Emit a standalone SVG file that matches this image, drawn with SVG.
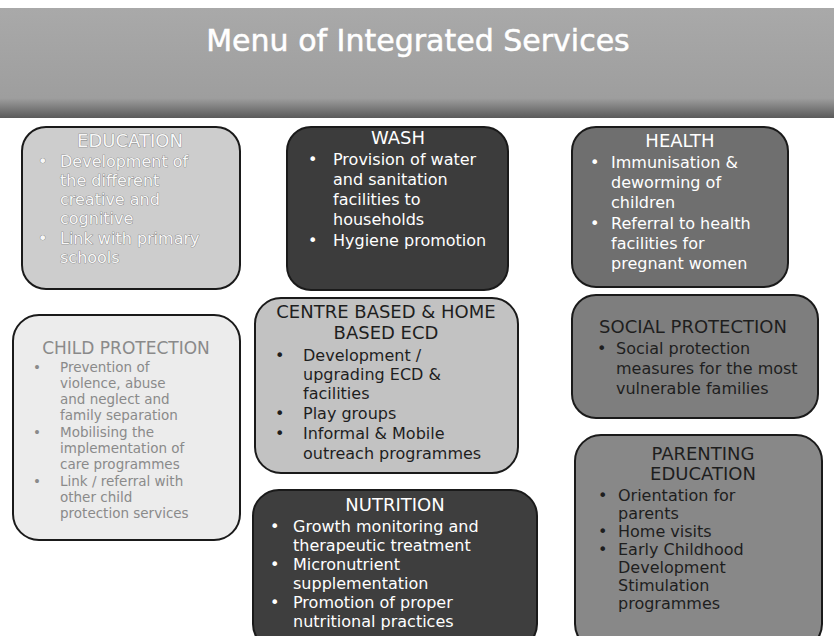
<svg xmlns="http://www.w3.org/2000/svg" width="834" height="636" viewBox="0 0 834 636">
<style>
text{font-family:"DejaVu Sans","Liberation Sans",sans-serif;font-size:16px}
.box{stroke:#1a1a1a;stroke-width:2}
.hd{text-anchor:middle;font-size:18px}
.w{fill:#ffffff}
.d{fill:#1e1e1e}
.lt{fill:#f7f7f7;stroke:#707070;stroke-width:0.7;paint-order:stroke}
.g{fill:#8a8a8a;font-size:13.5px}
.gh{fill:#8a8a8a;font-size:17px;text-anchor:middle}
.title{font-size:30px;fill:#ffffff;text-anchor:middle;stroke:#ffffff;stroke-width:0.5}
</style>
<defs>
<linearGradient id="ban" x1="0" y1="0" x2="0" y2="1">
<stop offset="0" stop-color="#a9a9a9"/>
<stop offset="0.82" stop-color="#9e9e9e"/>
<stop offset="1" stop-color="#5a5a5a"/>
</linearGradient>
</defs>
<rect width="834" height="636" fill="#ffffff"/>
<g id="banner">
<rect x="0" y="8" width="834" height="110" fill="url(#ban)"/>
<text class="title" x="418" y="51">Menu of Integrated Services</text>
</g>
<g id="connectors"></g>
<g id="education">
<rect class="box" x="22" y="127" width="218" height="162" rx="24" fill="#cdcdcd"/>
<text class="hd lt" x="130" y="147">EDUCATION</text>
<text class="lt" x="38" y="167">•</text>
<text class="lt" x="60" y="167">Development of</text>
<text class="lt" x="60" y="186">the different</text>
<text class="lt" x="60" y="205">creative and</text>
<text class="lt" x="60" y="224">cognitive</text>
<text class="lt" x="38" y="244">•</text>
<text class="lt" x="60" y="244">Link with primary</text>
<text class="lt" x="60" y="263">schools</text>
</g>
<g id="wash">
<rect class="box" x="287" y="127" width="221" height="163" rx="24" fill="#3c3c3c"/>
<text class="hd w" x="398" y="144">WASH</text>
<text class="w" x="308" y="165">•</text>
<text class="w" x="333" y="165">Provision of water</text>
<text class="w" x="333" y="185">and sanitation</text>
<text class="w" x="333" y="205">facilities to</text>
<text class="w" x="333" y="225">households</text>
<text class="w" x="308" y="246">•</text>
<text class="w" x="333" y="246">Hygiene promotion</text>
</g>
<g id="health">
<rect class="box" x="572" y="127" width="216" height="160" rx="24" fill="#6f6f6f"/>
<text class="hd w" x="680" y="147">HEALTH</text>
<text class="w" x="590" y="168">•</text>
<text class="w" x="611" y="168">Immunisation &amp;</text>
<text class="w" x="611" y="188">deworming of</text>
<text class="w" x="611" y="208">children</text>
<text class="w" x="590" y="229">•</text>
<text class="w" x="611" y="229">Referral to health</text>
<text class="w" x="611" y="249">facilities for</text>
<text class="w" x="611" y="269">pregnant women</text>
</g>
<g id="child-protection">
<rect class="box" x="13" y="315" width="227" height="225" rx="26" fill="#ececec"/>
<text class="gh" x="126" y="354">CHILD PROTECTION</text>
<text class="g" x="33" y="372">•</text>
<text class="g" x="60" y="372">Prevention of</text>
<text class="g" x="60" y="388">violence, abuse</text>
<text class="g" x="60" y="404">and neglect and</text>
<text class="g" x="60" y="420">family separation</text>
<text class="g" x="33" y="437">•</text>
<text class="g" x="60" y="437">Mobilising the</text>
<text class="g" x="60" y="453">implementation of</text>
<text class="g" x="60" y="469">care programmes</text>
<text class="g" x="33" y="486">•</text>
<text class="g" x="60" y="486">Link / referral with</text>
<text class="g" x="60" y="502">other child</text>
<text class="g" x="60" y="518">protection services</text>
</g>
<g id="centre-based">
<rect class="box" x="255" y="298" width="263" height="175" rx="26" fill="#c2c2c2"/>
<text class="hd d" x="386" y="318">CENTRE BASED &amp; HOME</text>
<text class="hd d" x="386" y="339">BASED ECD</text>
<text class="d" x="275" y="361">•</text>
<text class="d" x="303" y="361">Development /</text>
<text class="d" x="303" y="380">upgrading ECD &amp;</text>
<text class="d" x="303" y="399">facilities</text>
<text class="d" x="275" y="419">•</text>
<text class="d" x="303" y="419">Play groups</text>
<text class="d" x="275" y="439">•</text>
<text class="d" x="303" y="439">Informal &amp; Mobile</text>
<text class="d" x="303" y="459">outreach programmes</text>
</g>
<g id="nutrition">
<rect class="box" x="253" y="490" width="284" height="160" rx="26" fill="#3e3e3e"/>
<text class="hd w" x="395" y="511">NUTRITION</text>
<text class="w" x="270" y="532">•</text>
<text class="w" x="293" y="532">Growth monitoring and</text>
<text class="w" x="293" y="551">therapeutic treatment</text>
<text class="w" x="270" y="570">•</text>
<text class="w" x="293" y="570">Micronutrient</text>
<text class="w" x="293" y="589">supplementation</text>
<text class="w" x="270" y="608">•</text>
<text class="w" x="293" y="608">Promotion of proper</text>
<text class="w" x="293" y="627">nutritional practices</text>
</g>
<g id="social-protection">
<rect class="box" x="572" y="295" width="246" height="123" rx="24" fill="#7e7e7e"/>
<text class="hd d" x="693" y="333">SOCIAL PROTECTION</text>
<text class="d" x="597" y="354">•</text>
<text class="d" x="616" y="354">Social protection</text>
<text class="d" x="616" y="374">measures for the most</text>
<text class="d" x="616" y="394">vulnerable families</text>
</g>
<g id="parenting">
<rect class="box" x="575" y="435" width="247" height="215" rx="26" fill="#888888"/>
<text class="hd d" x="703" y="460">PARENTING</text>
<text class="hd d" x="703" y="480">EDUCATION</text>
<text class="d" x="598" y="501">•</text>
<text class="d" x="618" y="501">Orientation for</text>
<text class="d" x="618" y="519">parents</text>
<text class="d" x="598" y="537">•</text>
<text class="d" x="618" y="537">Home visits</text>
<text class="d" x="598" y="555">•</text>
<text class="d" x="618" y="555">Early Childhood</text>
<text class="d" x="618" y="573">Development</text>
<text class="d" x="618" y="591">Stimulation</text>
<text class="d" x="618" y="609">programmes</text>
</g>
</svg>
